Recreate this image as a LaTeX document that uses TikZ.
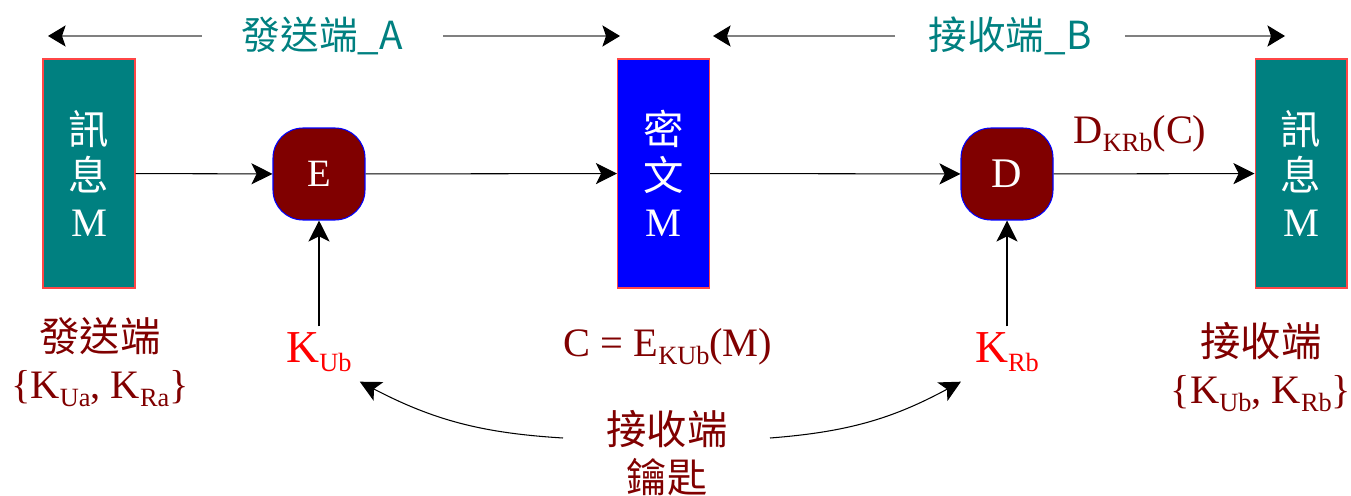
\documentclass[tikz,border=0pt]{standalone}
\usepackage{fontspec}
\usepackage{xcolor}
\setmainfont{Liberation Serif}
\newfontfamily\cjk{Noto Sans CJK TC}
\usetikzlibrary{arrows.meta}
\definecolor{boxTeal}{RGB}{0,128,128}
\definecolor{cipherBlue}{RGB}{0,0,255}
\definecolor{opMaroon}{RGB}{128,0,0}
\definecolor{keyRed}{RGB}{255,0,0}
\definecolor{edgeRed}{RGB}{255,70,70}
\newcommand{\zh}[1]{{\cjk #1}}
\newcommand{\lowsub}[1]{\raisebox{-0.42ex}{\fontsize{15}{15}\selectfont #1}}

\begin{document}
\begin{tikzpicture}[x=0.02cm,y=-0.02cm,
  msgbox/.style={draw=edgeRed,fill=boxTeal,line width=0.6pt,minimum width=1.84cm,minimum height=4.58cm,inner sep=0pt,text=white,align=center,font=\fontsize{23}{26}\selectfont},
  opbox/.style={draw=blue,fill=opMaroon,line width=0.6pt,rounded corners=0.6cm,minimum width=1.84cm,minimum height=1.84cm,inner sep=0pt,text=white,font=\fontsize{22}{22}\selectfont},
  sidetitle/.style={text=boxTeal,font=\fontsize{22}{24}\selectfont\cjk,inner ysep=0pt},
  lbl/.style={text=opMaroon,align=center,font=\fontsize{23}{27}\selectfont},
  keylbl/.style={text=keyRed,font=\fontsize{26}{26}\selectfont},
  flow/.style={line width=0.6pt,-{Stealth[length=12pt,width=12pt,inset=3pt]}},
  span/.style={draw=gray,line width=0.8pt,-{Stealth[black,length=10pt,width=12pt,inset=2pt]}}]
\useasboundingbox (0,0) rectangle (1351,496);

\node[msgbox] (msgA) at (89,173.5) {\zh{訊}\\\zh{息}\\M};
\node[msgbox,fill=cipherBlue] (cipher) at (663.5,173.5) {\zh{密}\\\zh{文}\\M};
\node[msgbox] (msgB) at (1301,173.5) {\zh{訊}\\\zh{息}\\M};
\node[opbox] (encE) at (319,174) {E};
\node[opbox,font=\fontsize{24}{24}\selectfont] (decD) at (1007,174) {D};

\node[sidetitle,inner xsep=0.8cm] (sideA) at (322.5,36) {發送端\_A};
\node[sidetitle,inner xsep=0.66cm] (sideB) at (1010,36) {接收端\_B};
\coordinate (aEndL) at (48,36);
\coordinate (aEndR) at (620,36);
\coordinate (bEndL) at (713,36);
\coordinate (bEndR) at (1285,36);

\node[lbl] (sendLbl) at (100,362) {\zh{發送端}\\\{K\lowsub{Ua}, K\lowsub{Ra}\}};
\node[lbl] (recvLbl) at (1261,367) {\zh{接收端}\\\{K\lowsub{Ub}, K\lowsub{Rb}\}};
\node[lbl] (cipherEq) at (668,347) {C = E\lowsub{KUb}(M)};
\node[lbl] (decOut) at (1140,134) {D\lowsub{KRb}(C)};
\node[keylbl] (kub) at (319,352) {K\lowsub{Ub}};
\node[keylbl] (krb) at (1007,352) {K\lowsub{Rb}};
\node[lbl] (keyB) at (667,453) {\zh{接收端}\\\zh{鑰匙}};
\coordinate (keyL) at (563,438);
\coordinate (keyR) at (770,438);

\draw[span] (sideA.west) -- (aEndL);
\draw[span] (sideA.east) -- (aEndR);
\draw[span] (sideB.west) -- (bEndL);
\draw[span] (sideB.east) -- (bEndR);

\draw[flow] (msgA) -- (encE);
\draw[flow] (encE) -- (cipher);
\draw[flow] (cipher) -- (decD);
\draw[flow] (decD) -- (msgB);
\draw[flow] (kub) -- (encE);
\draw[flow] (krb) -- (decD);
\draw[flow] (keyL) to[bend left=12] ([shift={(2,4)}]kub.south east);
\draw[flow] (keyR) to[bend right=12] ([shift={(-8,4)}]krb.south west);
\end{tikzpicture}
\end{document}
